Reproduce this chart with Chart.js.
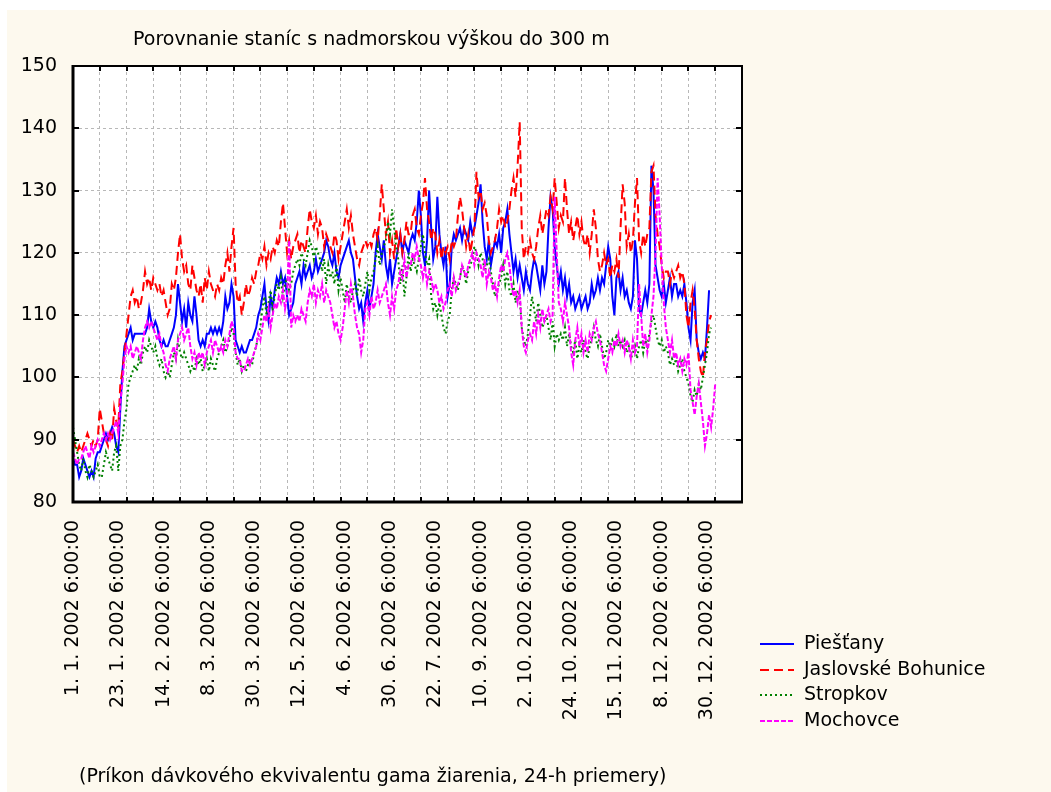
<!DOCTYPE html>
<html>
<head>
<meta charset="utf-8">
<title>Porovnanie staníc s nadmorskou výškou do 300 m</title>
<script src="https://cdn.jsdelivr.net/npm/chart.js@4"></script>
<style>
  html, body { margin: 0; padding: 0; background: #ffffff; }
  canvas { display: block; }
</style>
</head>
<body>
<canvas id="chart" width="1051" height="792"></canvas>
<script>
// Date labels, one every 22 measurements
const dateLabels = [
  '1. 1. 2002 6:00:00', '23. 1. 2002 6:00:00', '14. 2. 2002 6:00:00', '8. 3. 2002 6:00:00',
  '30. 3. 2002 6:00:00', '12. 5. 2002 6:00:00', '4. 6. 2002 6:00:00', '30. 6. 2002 6:00:00',
  '22. 7. 2002 6:00:00', '10. 9. 2002 6:00:00', '2. 10. 2002 6:00:00', '24. 10. 2002 6:00:00',
  '15. 11. 2002 6:00:00', '8. 12. 2002 6:00:00', '30. 12. 2002 6:00:00'
];

const seriesNames = ['Piešťany', 'Jaslovské Bohunice', 'Stropkov', 'Mochovce'];

// 24-h averages (nSv/h), one row per measurement
const piestany = [
  87, 86, 86, 84, 85, 87, 86, 85, 84, 85, 84, 87, 88,
  88, 89, 90, 91, 90, 91, 92, 91, 89, 88, 95, 101, 105,
  106, 107, 108, 106, 107, 107, 107, 107, 107, 107, 108, 111, 109,
  108, 109, 108, 106, 105, 106, 105, 105, 106, 107, 108, 110, 115,
  112, 109, 111, 108, 112, 110, 109, 113, 110, 106, 105, 106, 105,
  107, 107, 108, 107, 108, 107, 108, 107, 109, 113, 111, 112, 115,
  113, 106, 105, 104, 105, 104, 104, 105, 106, 106, 107, 108, 110,
  111, 113, 115, 111, 109, 113, 111, 114, 116, 115, 117, 115, 116,
  113, 110, 111, 112, 115, 116, 117, 115, 118, 116, 117, 118, 116,
  117, 119, 117, 118, 119, 120, 122, 121, 119, 118, 120, 117, 116,
  118, 119, 120, 121, 122, 120, 119, 116, 113, 111, 112, 109, 112,
  114, 111, 113, 115, 120, 123, 121, 119, 122, 118, 116, 119, 115,
  117, 119, 121, 123, 120, 122, 121, 120, 122, 123, 122, 125, 130,
  126, 120, 118, 122, 130, 124, 119, 121, 129, 123, 120, 118, 121,
  113, 115, 121, 123, 122, 123, 124, 122, 124, 123, 122, 125, 123,
  124, 126, 128, 131, 125, 121, 119, 122, 118, 120, 122, 121, 123,
  120, 124, 125, 127, 123, 120, 117, 119, 116, 118, 116, 114, 117,
  115, 114, 117, 119, 118, 116, 114, 118, 115, 117, 124, 129, 127,
  121, 118, 115, 117, 114, 116, 113, 115, 112, 113, 111, 112, 113,
  111, 112, 113, 111, 112, 115, 113, 114, 116, 114, 116, 115, 118,
  121, 119, 113, 110, 116, 117, 114, 116, 113, 114, 112, 111, 113,
  122, 119, 111, 110, 112, 114, 112, 115, 134, 130, 118, 116, 114,
  113, 115, 112, 114, 116, 113, 115, 115, 113, 114, 113, 115, 112,
  108, 106, 112, 114, 106, 104, 103, 104, 103, 108, 114, null, null,
  null
];

const jaslovskeBohunice = [
  90, 89, 88, 89, 88, 89, 90, 91, 90, 89, 90, 89, 90,
  95, 93, 91, 90, 89, 91, 90, 95, 93, 92, 99, 101, 104,
  107, 110, 113, 114, 112, 113, 111, 112, 114, 117, 115, 116, 114,
  116, 115, 114, 115, 113, 114, 112, 110, 111, 115, 114, 116, 120,
  123, 119, 117, 118, 115, 114, 118, 116, 114, 113, 115, 112, 116,
  114, 117, 115, 114, 113, 115, 114, 116, 115, 118, 120, 117, 121,
  124, 115, 112, 113, 110, 112, 115, 113, 114, 116, 115, 117, 118,
  120, 119, 121, 118, 120, 119, 121, 120, 122, 121, 125, 128, 124,
  120, 122, 119, 121, 122, 123, 120, 122, 121, 120, 124, 127, 125,
  124, 126, 123, 125, 124, 121, 123, 122, 121, 120, 123, 122, 119,
  121, 123, 125, 127, 124, 126, 123, 121, 119, 118, 120, 121, 122,
  121, 122, 121, 123, 124, 122, 126, 131, 127, 123, 125, 120, 122,
  119, 124, 121, 123, 120, 122, 125, 123, 123, 126, 127, 124, 123,
  126, 128, 132, 127, 125, 122, 124, 123, 120, 122, 119, 121, 120,
  121, 119, 122, 121, 122, 126, 129, 127, 124, 121, 123, 120, 122,
  124, 133, 129, 130, 127, 128, 126, 122, 120, 121, 122, 124, 127,
  125, 126, 124, 125, 127, 130, 132, 129, 134, 141, 124, 119, 121,
  120, 122, 120, 119, 121, 124, 126, 123, 125, 127, 126, 129, 127,
  132, 128, 124, 126, 125, 132, 127, 123, 125, 122, 124, 126, 123,
  125, 122, 121, 123, 120, 123, 127, 124, 119, 117, 118, 120, 118,
  119, 116, 118, 117, 119, 116, 124, 131, 128, 121, 123, 120, 122,
  128, 132, 122, 120, 123, 121, 123, 124, 133, 134, 126, 123, 121,
  118, 116, 117, 117, 115, 117, 116, 117, 118, 116, 117, 115, 110,
  108, 112, 114, 111, 106, 103, 101, 100, 104, 106, 109, 110, null,
  null
];

const stropkov = [
  92, 90, 88, 86, 85, 87, 85, 84, 86, 85, 84, 85, 86,
  84, 84, 86, 88, 87, 86, 85, 88, 89, 85, 89, 90, 93,
  95, 99, 100, 101, 102, 101, 103, 102, 104, 105, 104, 106, 105,
  104, 105, 103, 102, 103, 101, 100, 101, 100, 102, 104, 103, 106,
  104, 103, 104, 103, 102, 101, 102, 101, 103, 102, 103, 101, 102,
  103, 101, 103, 102, 101, 103, 104, 105, 106, 104, 105, 106, 108,
  107, 104, 102, 103, 101, 102, 101, 102, 103, 102, 104, 105, 107,
  108, 111, 113, 110, 112, 114, 111, 113, 115, 114, 116, 113, 115,
  116, 114, 115, 117, 118, 119, 118, 120, 119, 118, 120, 122, 121,
  119, 121, 120, 119, 117, 119, 115, 118, 116, 117, 115, 118, 114,
  116, 114, 112, 115, 113, 112, 114, 115, 113, 116, 114, 113, 115,
  117, 114, 116, 117, 119, 121, 118, 120, 121, 122, 125, 123, 127,
  124, 121, 119, 115, 118, 113, 116, 120, 117, 119, 118, 117, 119,
  121, 123, 120, 118, 119, 113, 111, 112, 110, 112, 110, 108, 107,
  109, 110, 114, 116, 115, 114, 116, 118, 117, 115, 117, 118, 119,
  121, 120, 118, 120, 119, 117, 118, 119, 117, 115, 113, 114, 115,
  116, 118, 115, 117, 114, 113, 115, 112, 114, 113, 108, 106, 105,
  107, 110, 113, 111, 109, 112, 110, 108, 109, 110, 108, 106, 109,
  105, 107, 106, 107, 106, 108, 105, 107, 105, 104, 106, 103, 105,
  104, 106, 104, 103, 105, 106, 108, 106, 105, 107, 105, 103, 104,
  106, 105, 106, 105, 107, 105, 106, 105, 106, 104, 105, 103, 104,
  105, 103, 105, 106, 104, 106, 105, 107, 109, 110, 108, 106, 105,
  106, 104, 105, 104, 102, 103, 102, 103, 101, 102, 103, 101, 100,
  99, 97, 96, 98, 97, 99, 98, 100, 102, 104, 107, 108, null,
  null
];

const mochovce = [
  88, 87, 86, 87, 87, 88, 89, 88, 87, 89, 88, 89, 90,
  89, 90, 91, 90, 91, 90, 91, 92, 93, 91, 96, 99, 103,
  105, 104, 105, 103, 104, 105, 104, 103, 106, 108, 109, 108, 109,
  108, 107, 106, 107, 105, 104, 102, 101, 103, 104, 105, 103, 106,
  107, 108, 106, 107, 108, 105, 103, 104, 102, 104, 103, 104, 102,
  104, 105, 106, 104, 106, 105, 104, 105, 104, 106, 105, 107, 109,
  108, 104, 103, 103, 101, 101, 102, 103, 102, 103, 104, 105, 107,
  106, 108, 110, 109, 111, 108, 110, 112, 111, 113, 112, 114, 111,
  113, 122, 108, 110, 109, 110, 109, 111, 110, 109, 112, 114, 113,
  115, 112, 114, 113, 115, 112, 114, 113, 112, 110, 108, 109, 107,
  106, 108, 111, 114, 112, 115, 113, 110, 108, 107, 104, 106, 111,
  112, 110, 113, 111, 112, 114, 112, 113, 114, 115, 112, 110, 113,
  111, 114, 115, 117, 116, 119, 116, 118, 118, 120, 119, 121, 119,
  118, 116, 118, 115, 117, 116, 114, 115, 114, 112, 113, 111, 112,
  114, 115, 113, 116, 114, 115, 116, 118, 117, 116, 118, 119, 120,
  118, 120, 119, 118, 116, 119, 115, 117, 116, 114, 115, 113, 116,
  118, 117, 119, 120, 118, 115, 113, 114, 112, 114, 108, 105, 104,
  106, 107, 106, 109, 107, 110, 108, 111, 109, 110, 111, 109, 110,
  129, 120, 112, 111, 109, 112, 110, 108, 104, 102, 106, 108, 105,
  107, 104, 106, 104, 107, 106, 108, 109, 107, 106, 104, 102, 101,
  103, 105, 104, 106, 105, 107, 105, 106, 104, 106, 105, 103, 106,
  104, 105, 115, 110, 105, 107, 104, 106, 110, 113, 120, 132, 126,
  118, 112, 108, 106, 104, 106, 103, 104, 102, 103, 101, 103, 102,
  104, 98, 96, 94, 97, 99, 96, 93, 89, 91, 94, 92, 95,
  99
];

const yTicks = [80, 90, 100, 110, 120, 130, 140, 150];

const LABEL_STEP = 22;  // a date label every 22 rows
const GRID_STEP = 13;   // a grid line every 13 rows
const X_MAX = 325;

const FONT = '"DejaVu Sans", "Liberation Sans", sans-serif';
Chart.defaults.font.family = FONT;
Chart.defaults.font.size = 19;
Chart.defaults.color = '#000000';

const styles = [
  { color: '#0000ff', dash: [] },
  { color: '#ff0000', dash: [9, 5] },
  { color: '#008000', dash: [2, 3] },
  { color: '#ff00ff', dash: [5, 2] }
];
const values = [piestany, jaslovskeBohunice, stropkov, mochovce];

const GRID_COLOR = '#b8b8b8';

const paperPlugin = {
  id: 'paper',
  beforeDraw(chart) {
    const { ctx, width, height, chartArea: a } = chart;
    ctx.save();
    ctx.fillStyle = '#ffffff';
    ctx.fillRect(0, 0, width, height);
    ctx.fillStyle = '#fdf9ee';
    ctx.fillRect(7, 10, width - 7, height - 10);
    ctx.fillStyle = '#ffffff';
    ctx.fillRect(a.left, a.top, a.right - a.left, a.bottom - a.top);
    ctx.restore();
  },
  afterDatasetsDraw(chart) {
    const { ctx, chartArea: a, scales } = chart;
    ctx.save();
    ctx.strokeStyle = '#000000';
    ctx.setLineDash([]);

    // inward tick marks on all four sides
    ctx.lineWidth = 2;
    ctx.beginPath();
    for (let v = 0; v <= X_MAX; v += GRID_STEP) {
      const px = Math.round(scales.x.getPixelForValue(v));
      ctx.moveTo(px, a.top); ctx.lineTo(px, a.top + 5);
      ctx.moveTo(px, a.bottom); ctx.lineTo(px, a.bottom - 5);
    }
    yTicks.forEach(v => {
      const py = Math.round(scales.y.getPixelForValue(v));
      ctx.moveTo(a.left, py); ctx.lineTo(a.left + 6, py);
      ctx.moveTo(a.right, py); ctx.lineTo(a.right - 6, py);
    });
    ctx.stroke();

    // frame
    ctx.lineWidth = 2;
    ctx.beginPath();
    ctx.moveTo(a.left, a.top); ctx.lineTo(a.right, a.top); ctx.lineTo(a.right, a.bottom);
    ctx.stroke();
    ctx.lineWidth = 3;
    ctx.beginPath();
    ctx.moveTo(a.left, a.top - 1); ctx.lineTo(a.left, a.bottom); ctx.lineTo(a.right + 1, a.bottom);
    ctx.stroke();
    ctx.restore();
  },
  afterDraw(chart) {
    const { ctx } = chart;
    ctx.save();
    ctx.fillStyle = '#000000';
    ctx.font = '19px ' + FONT;
    ctx.textAlign = 'left';
    ctx.textBaseline = 'alphabetic';
    ctx.fillText('Porovnanie staníc s nadmorskou výškou do 300 m', 133, 45);
    ctx.fillText('(Príkon dávkového ekvivalentu gama žiarenia, 24-h priemery)', 79, 782);

    // legend
    ctx.textBaseline = 'middle';
    chart.data.datasets.forEach((ds, i) => {
      const y = 644 + Math.round(i * 25.7);
      ctx.strokeStyle = ds.borderColor;
      ctx.lineWidth = 2;
      ctx.setLineDash(ds.borderDash);
      ctx.beginPath();
      ctx.moveTo(760, y);
      ctx.lineTo(794, y);
      ctx.stroke();
      ctx.setLineDash([]);
      ctx.fillText(ds.label, 804, y);
    });
    ctx.restore();
  }
};

new Chart(document.getElementById('chart'), {
  type: 'line',
  data: {
    datasets: seriesNames.map((name, i) => ({
      label: name,
      data: values[i].map((v, idx) => ({ x: idx, y: v })),
      borderColor: styles[i].color,
      borderDash: styles[i].dash,
      borderWidth: 2,
      pointRadius: 0,
      tension: 0,
      fill: false,
      order: seriesNames.length - i
    }))
  },
  options: {
    responsive: false,
    animation: false,
    devicePixelRatio: 1,
    layout: { padding: { left: 0, top: 66, right: 309, bottom: 0 } },
    plugins: {
      legend: { display: false },
      title: { display: false },
      tooltip: { enabled: false }
    },
    scales: {
      x: {
        type: 'linear',
        min: 0,
        max: X_MAX,
        afterBuildTicks(scale) {
          const set = new Set();
          for (let v = 0; v <= X_MAX; v += GRID_STEP) set.add(v);
          dateLabels.forEach((_, i) => set.add(i * LABEL_STEP));
          scale.ticks = [...set].sort((p, q) => p - q).map(v => ({ value: v }));
        },
        afterFit(scale) { scale.height = 290; },
        grid: {
          color: c => (c.tick && c.tick.value % GRID_STEP === 0) ? GRID_COLOR : 'rgba(0,0,0,0)',
          lineWidth: 1,
          drawTicks: false
        },
        border: { display: false, dash: [3, 3] },
        ticks: {
          autoSkip: false,
          maxRotation: 90,
          minRotation: 90,
          padding: 18,
          font: { size: 19 },
          callback: v => (v % LABEL_STEP === 0 && dateLabels[v / LABEL_STEP] !== undefined) ? dateLabels[v / LABEL_STEP] : ''
        }
      },
      y: {
        min: yTicks[0],
        max: yTicks[yTicks.length - 1],
        afterFit(scale) { scale.width = 73; },
        afterBuildTicks(scale) { scale.ticks = yTicks.map(v => ({ value: v })); },
        grid: { color: GRID_COLOR, lineWidth: 1, drawTicks: false },
        border: { display: false, dash: [3, 3] },
        ticks: { padding: 16, font: { size: 19 } }
      }
    }
  },
  plugins: [paperPlugin]
});
</script>
</body>
</html>
